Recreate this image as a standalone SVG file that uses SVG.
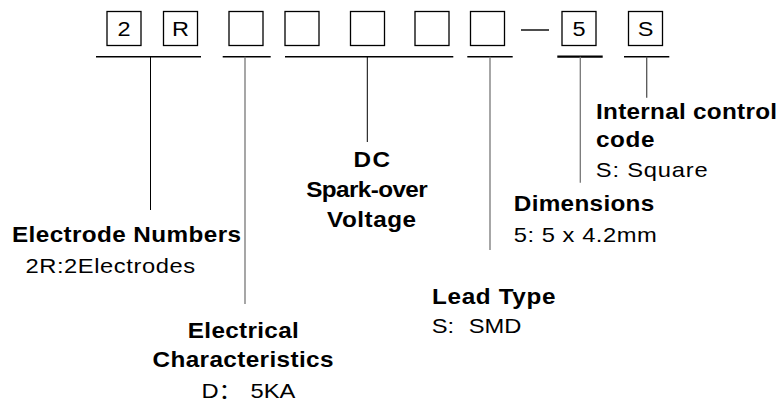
<svg xmlns="http://www.w3.org/2000/svg" width="780" height="405" viewBox="0 0 780 405">
<style>
.box{fill:#fff;stroke:#000;stroke-width:1.3}
.bt{font-family:"Liberation Sans",Arial,sans-serif;font-size:21px;text-anchor:middle;fill:#000}
.h{stroke:#000;stroke-width:1.4;fill:none}
.v{stroke:#000;stroke-width:1;fill:none}
.vg{stroke:#777;stroke-width:1.3;fill:none}
.b{font-family:"Liberation Sans",Arial,sans-serif;font-size:21.5px;font-weight:bold;fill:#000}
.r{font-family:"Liberation Sans",Arial,"Noto Sans CJK SC",sans-serif;font-size:21px;fill:#000}
</style>
<rect width="780" height="405" fill="#fff"/>
<g id="code-boxes">
<g id="box1"><rect class="box" x="107" y="11.5" width="34" height="34"/><text class="bt" transform="translate(124,36) scale(1.12,1)">2</text></g>
<g id="box2"><rect class="box" x="163.5" y="11.5" width="34" height="34"/><text class="bt" transform="translate(180.5,36) scale(1.12,1)">R</text></g>
<g id="box3"><rect class="box" x="229" y="11.5" width="34" height="34"/></g>
<g id="box4"><rect class="box" x="285" y="11.5" width="34" height="34"/></g>
<g id="box5"><rect class="box" x="350.5" y="11.5" width="34" height="34"/></g>
<g id="box6"><rect class="box" x="415" y="11.5" width="34" height="34"/></g>
<g id="box7"><rect class="box" x="470.5" y="11.5" width="34" height="34"/></g>
<g id="dash"><line class="h" x1="521" y1="30" x2="549" y2="30"/></g>
<g id="box8"><rect class="box" x="562" y="11.5" width="34" height="34"/><text class="bt" transform="translate(579,36) scale(1.12,1)">5</text></g>
<g id="box9"><rect class="box" x="628.5" y="11.5" width="34" height="34"/><text class="bt" transform="translate(645.5,36) scale(1.12,1)">S</text></g>
</g>
<g id="connectors">
<line class="h" x1="96" y1="56.7" x2="201" y2="56.7"/>
<line class="v" x1="150.5" y1="56.7" x2="150.5" y2="210"/>
<line class="h" x1="222.7" y1="56.7" x2="270.7" y2="56.7"/>
<line class="vg" x1="245" y1="56.7" x2="245" y2="304"/>
<line class="h" x1="285" y1="56.7" x2="453.3" y2="56.7"/>
<line class="v" x1="367.3" y1="56.7" x2="367.3" y2="142"/>
<line class="h" x1="467.3" y1="56.7" x2="512.7" y2="56.7"/>
<line class="vg" x1="490" y1="56.7" x2="490" y2="250"/>
<line class="h" x1="557.3" y1="56.7" x2="602.7" y2="56.7" style="stroke-width:2.2"/>
<line class="vg" x1="580.3" y1="56.7" x2="580.3" y2="182.7"/>
<line class="h" x1="624" y1="56.7" x2="669.3" y2="56.7"/>
<line class="vg" x1="646.7" y1="56.7" x2="646.7" y2="97.7" style="stroke:#555"/>
</g>
<g id="label-electrode">
<text class="b" transform="translate(12,241.7) scale(1.13,1)" textLength="202.7" lengthAdjust="spacing">Electrode Numbers</text>
<text class="r" transform="translate(25.5,272.7) scale(1.13,1)" textLength="150" lengthAdjust="spacing">2R:2Electrodes</text>
</g>
<g id="label-electrical">
<text class="b" transform="translate(187.8,337.7) scale(1.13,1)" textLength="98.2" lengthAdjust="spacing">Electrical</text>
<text class="b" transform="translate(152.5,366.7) scale(1.13,1)" textLength="160.2" lengthAdjust="spacing">Characteristics</text>
<text class="r" transform="translate(201.5,398.3) scale(1.13,1)"><tspan x="0">D：</tspan><tspan x="43.4">5KA</tspan></text>
</g>
<g id="label-dc">
<text class="b" transform="translate(353.5,167.3) scale(1.13,1)" textLength="32.3" lengthAdjust="spacing">DC</text>
<text class="b" transform="translate(306.2,196.7) scale(1.13,1)" textLength="107.5" lengthAdjust="spacing">Spark-over</text>
<text class="b" transform="translate(327,226.5) scale(1.13,1)" textLength="78.8" lengthAdjust="spacing">Voltage</text>
</g>
<g id="label-internal">
<text class="b" transform="translate(596,119) scale(1.13,1)" textLength="160.2" lengthAdjust="spacing">Internal control</text>
<text class="b" transform="translate(596,146.7) scale(1.13,1)" textLength="51.8" lengthAdjust="spacing">code</text>
<text class="r" transform="translate(595.8,177) scale(1.13,1)" textLength="99.1" lengthAdjust="spacing">S: Square</text>
</g>
<g id="label-dimensions">
<text class="b" transform="translate(513.8,210.7) scale(1.13,1)" textLength="124.3" lengthAdjust="spacing">Dimensions</text>
<text class="r" transform="translate(513.8,241.7) scale(1.13,1)" textLength="126.5" lengthAdjust="spacing">5: 5 x 4.2mm</text>
</g>
<g id="label-lead">
<text class="b" transform="translate(432,304) scale(1.13,1)" textLength="109.3" lengthAdjust="spacing">Lead Type</text>
<text class="r" transform="translate(431.8,333.3) scale(1.13,1)"><tspan x="0">S:</tspan><tspan x="32.7">SMD</tspan></text>
</g>
</svg>
